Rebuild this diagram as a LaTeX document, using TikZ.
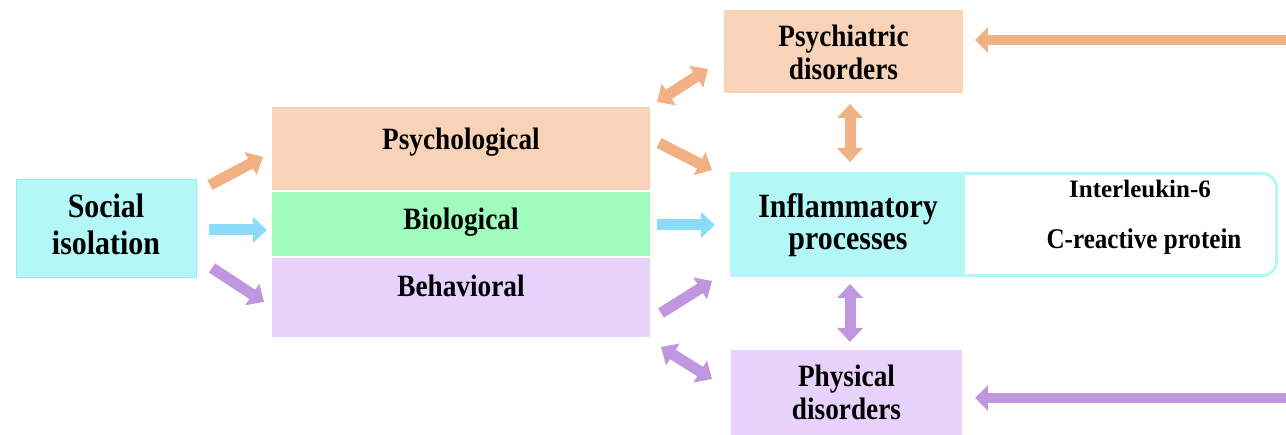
\documentclass[tikz,border=0pt]{standalone}
\usepackage{fontspec}
\setmainfont{Liberation Serif}[FakeStretch=0.88]
\newfontfamily\plainserif{Liberation Serif}
\usetikzlibrary{arrows.meta}
\definecolor{cybox}{RGB}{180,247,247}
\definecolor{cyedge}{RGB}{160,232,242}
\definecolor{peach}{RGB}{248,211,183}
\definecolor{mint}{RGB}{160,252,188}
\definecolor{lav}{RGB}{230,210,250}
\definecolor{arO}{RGB}{242,177,130}
\definecolor{arC}{RGB}{137,221,250}
\definecolor{arP}{RGB}{192,150,222}
\newcommand\twolines[2]{\begin{tabular}[t]{@{}c@{}}#1\\#2\end{tabular}}
\begin{document}
\begin{tikzpicture}[x=1pt,y=-1pt,
  box/.style={inner sep=0pt,outer sep=0pt,draw=none},
  lbl/.style={inner sep=0pt,anchor=base,font=\bfseries\fontsize{31}{33}\selectfont},
  biglbl/.style={inner sep=0pt,anchor=base,font=\bfseries\fontsize{34}{37}\selectfont},
  fat/.style={line width=11pt,-{Triangle[width=25pt,length=14pt]}},
  fatboth/.style={line width=11pt,{Triangle[width=25pt,length=14pt]}-{Triangle[width=25pt,length=14pt]}},
  long/.style={line width=10pt,-{Triangle[width=25pt,length=13pt]}}
]
\path[fill=white,use as bounding box] (0,0) rectangle (1286,435);

% boxes
\node[box,fill=cybox,draw=cyedge,line width=1pt,minimum width=180pt,minimum height=98pt] (soc) at (106,229) {};
\node[box,fill=peach,minimum width=378pt,minimum height=83pt] (psy) at (461,148.5) {};
\node[box,fill=mint,minimum width=378pt,minimum height=64pt] (bio) at (461,224) {};
\node[box,fill=lav,minimum width=378pt,minimum height=79pt] (beh) at (461,297.5) {};
\node[box,fill=peach,minimum width=239pt,minimum height=83pt] (psych) at (843.5,51.5) {};
\node[box,draw=cybox,line width=3pt,rounded corners=14pt,minimum width=545pt,minimum height=102pt] (infl) at (1004,224.5) {};
\node[box,fill=cybox,minimum width=235pt,minimum height=105pt] (inflam) at (847.5,224.5) {};
\node[box,fill=lav,minimum width=231pt,minimum height=85pt] (phys) at (846.5,392.5) {};

% labels
\node[biglbl] (socT) at (106,218) {\twolines{Social}{isolation}};
\node[lbl] (psyT) at (461,150) {Psychological};
\node[lbl] (bioT) at (461,230) {Biological};
\node[lbl] (behT) at (461,297) {Behavioral};
\node[lbl] (psychT) at (843.5,47) {\twolines{Psychiatric}{disorders}};
\node[biglbl,font=\bfseries\fontsize{34}{32}\selectfont] (inflamT) at (848,218) {\twolines{Inflammatory}{processes}};
\node[inner sep=0pt,anchor=base,font=\plainserif\bfseries\fontsize{25}{26}\selectfont] (il6) at (1140,198) {Interleukin-6};
\node[inner sep=0pt,anchor=base,font=\bfseries\fontsize{28.5}{30}\selectfont] (crp) at (1144,249) {C-reactive protein};
\node[lbl] (physT) at (846.5,387) {\twolines{Physical}{disorders}};

% free ends at the right edge
\coordinate (edgeO) at (1286,40);
\coordinate (edgeP) at (1286,398);

% connectors
\draw[fat,arO] ([shift={(14,5)}]soc.north east) -- ([shift={(-9,50)}]psy.north west);
\draw[fat,arC] ([shift={(13,1)}]soc.east) -- ([shift={(-5,6)}]bio.west);
\draw[fat,arP] ([shift={(16,-10)}]soc.south east) -- ([shift={(-8,4.5)}]beh.west);

\draw[fatboth,arO] ([shift={(7,-5)}]psy.north east) -- ([shift={(-16,-24)}]psych.south west);
\draw[fat,arO] ([shift={(9,-5.5)}]psy.east) -- ([shift={(-18,-2)}]inflam.north west);
\draw[fat,arC] ([shift={(7,1)}]bio.east) -- ([shift={(-15,0.5)}]inflam.west);
\draw[fat,arP] ([shift={(11,15.5)}]beh.east) -- ([shift={(-18,4)}]inflam.south west);
\draw[fatboth,arP] ([shift={(11,10)}]beh.south east) -- ([shift={(-19,-13.5)}]phys.west);

\draw[fatboth,arO] ([shift={(6.5,11)}]psych.south) -- ([shift={(2.5,-10)}]inflam.north);
\draw[fatboth,arP] ([shift={(2.5,7)}]inflam.south) -- ([shift={(3.5,-8)}]phys.north);

\draw[long,arO] (edgeO) -- ([shift={(12,-11.5)}]psych.east);
\draw[long,arP] (edgeP) -- ([shift={(13,5.5)}]phys.east);
\end{tikzpicture}
\end{document}
